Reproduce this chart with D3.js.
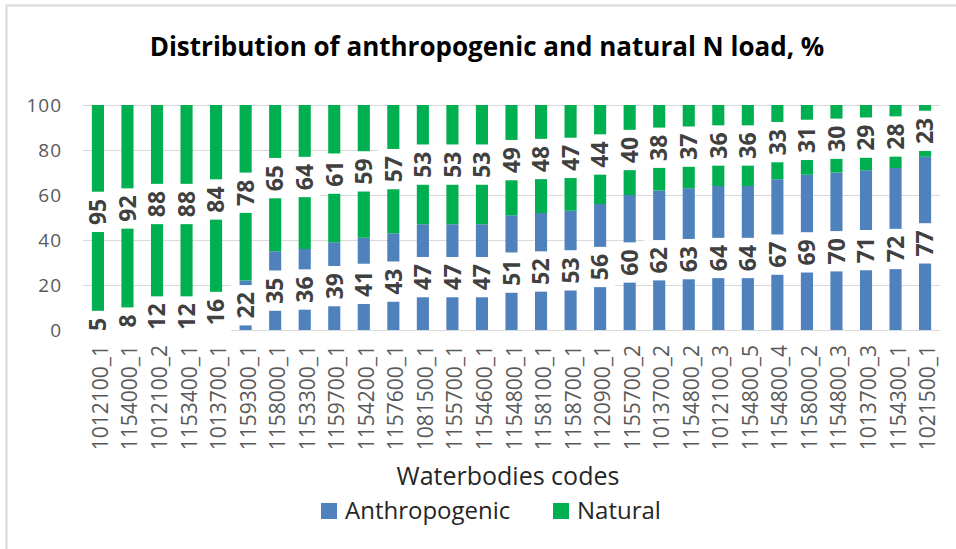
<!DOCTYPE html>
<html lang="en">
<head>
<meta charset="UTF-8">
<title>N load</title>
<script src="https://cdn.jsdelivr.net/npm/d3@7"></script>
<style>
  body { margin: 0; background: #fff; }
  text { font-family: "Open Sans", "Liberation Sans", sans-serif; }
</style>
</head>
<body>
<svg width="956" height="549"></svg>
<script>
// data
const codes = ['1012100_1', '1154000_1', '1012100_2', '1153400_1', '1013700_1', '1159300_1', '1158000_1',
  '1153300_1', '1159700_1', '1154200_1', '1157600_1', '1081500_1', '1155700_1', '1154600_1', '1154800_1',
  '1158100_1', '1158700_1', '1120900_1', '1155700_2', '1013700_2', '1154800_2', '1012100_3', '1154800_5',
  '1154800_4', '1158000_2', '1154800_3', '1013700_3', '1154300_1', '1021500_1']
const anthropogenic = [5, 8, 12, 12, 16, 22, 35, 36, 39, 41, 43, 47, 47, 47, 51, 52, 53, 56, 60, 62, 63, 64, 64, 67, 69, 70, 71, 72, 77]
const natural = [95, 92, 88, 88, 84, 78, 65, 64, 61, 59, 57, 53, 53, 53, 49, 48, 47, 44, 40, 38, 37, 36, 36, 33, 31, 30, 29, 28, 23]
const yTicks = [0, 20, 40, 60, 80, 100]
const seriesNames = ['Anthropogenic', 'Natural']
const colors = ['#4F81BD', '#00B050']

const svg = d3.select('svg')
const mLeft = 83, mRight = 940, mTop = 105, mBottom = 330

// outer chart border
svg.append('rect')
  .attr('x', 6.5).attr('y', 5.5).attr('width', 960).attr('height', 560)
  .attr('fill', 'none').attr('stroke', '#d9d9d9').attr('stroke-width', 2)

const x = d3.scaleBand().domain(codes).range([mLeft, mRight]).paddingInner(0.59).paddingOuter(0.3)
const y = d3.scaleLinear().domain([0, 100]).range([mBottom, mTop])

// title
svg.append('text')
  .attr('x', 487).attr('y', 56)
  .attr('text-anchor', 'middle')
  .style('font-size', '26px').style('font-weight', 'bold').attr('fill', '#000')
  .text('Distribution of anthropogenic and natural N load, %')

// grid lines
svg.append('g').selectAll('line')
  .data(yTicks).enter().append('line')
  .attr('x1', mLeft).attr('x2', mRight)
  .attr('y1', d => y(d) + 0.5).attr('y2', d => y(d) + 0.5)
  .attr('stroke', '#d9d9d9').attr('stroke-width', 1)

// y axis tick labels
const yAxis = svg.append('g')
  .attr('transform', `translate(${mLeft},0)`)
  .call(d3.axisLeft(y).tickValues(yTicks).tickSize(0).tickPadding(21))
yAxis.select('.domain').remove()
yAxis.selectAll('text').style('font-size', '19px').attr('fill', '#595959')
  .style('font-family', '"Open Sans", sans-serif').style('letter-spacing', '1px')

// stacked bars
const rows = codes.map((c, i) => ({ code: c, Anthropogenic: anthropogenic[i], Natural: natural[i] }))
const stack = d3.stack().keys(seriesNames)(rows)

svg.append('g').selectAll('g')
  .data(stack).enter().append('g')
  .attr('fill', (d, i) => colors[i])
  .selectAll('rect')
  .data(d => d).enter().append('rect')
  .attr('x', d => x(d.data.code))
  .attr('width', x.bandwidth())
  .attr('y', d => y(d[1]))
  .attr('height', d => y(d[0]) - y(d[1]))

// data labels with white boxes
const labels = []
stack.forEach(s => s.forEach(d => {
  labels.push({ code: d.data.code, mid: (d[0] + d[1]) / 2, value: d[1] - d[0] })
}))
const lg = svg.append('g').selectAll('g')
  .data(labels).enter().append('g')
  .attr('transform', d => `translate(${x(d.code) + x.bandwidth() / 2},${y(d.mid)}) rotate(-90)`)
const lt = lg.append('text')
  .attr('text-anchor', 'middle')
  .attr('dy', '0.36em')
  .style('font-size', '23px').style('font-weight', 'bold')
  .attr('fill', '#404040')
  .text(d => d.value)
lt.each(function () {
  const w = this.getComputedTextLength()
  d3.select(this.parentNode).insert('rect', 'text')
    .attr('x', -w / 2 - 7).attr('y', -15)
    .attr('width', w + 14).attr('height', 30)
    .attr('fill', '#fff')
})

// category labels
svg.append('g').selectAll('text')
  .data(codes).enter().append('text')
  .attr('transform', d => `translate(${x(d) + x.bandwidth() / 2 + 10},345) rotate(-90)`)
  .attr('text-anchor', 'end')
  .style('font-size', '21px').attr('fill', '#595959')
  .text(d => d)

// axis title
svg.append('text')
  .attr('x', 508).attr('y', 485)
  .attr('text-anchor', 'middle')
  .style('font-size', '25px').attr('fill', '#262626')
  .text('Waterbodies codes')

// legend
const legX = [321, 553]
const leg = svg.append('g').selectAll('g')
  .data(seriesNames).enter().append('g')
  .attr('transform', (d, i) => `translate(${legX[i]},503)`)
leg.append('rect').attr('width', 16).attr('height', 16).attr('fill', (d, i) => colors[i])
leg.append('text').attr('x', 24).attr('y', 16)
  .style('font-size', '24px').attr('fill', '#262626')
  .text(d => d)
</script>
</body>
</html>
